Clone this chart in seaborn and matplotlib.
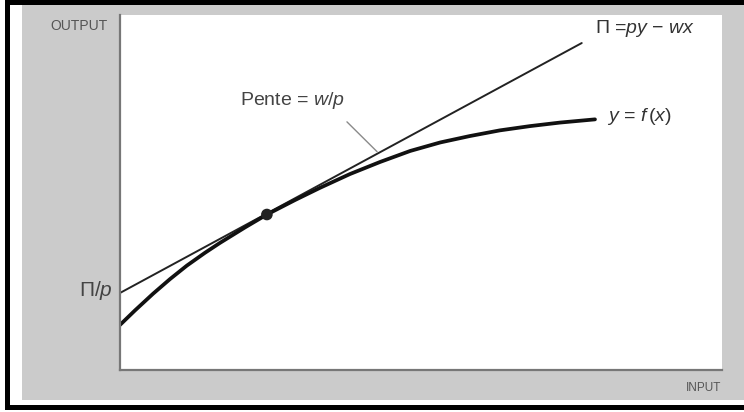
import matplotlib
matplotlib.use("Agg")
import matplotlib.pyplot as plt
from matplotlib.patches import Rectangle
import seaborn as sns
import pandas as pd

# ---- data (arbitrary units, 0-10 axes) ----
input_curve = [0.00, 0.25, 0.55, 0.83, 1.11, 1.41, 1.66, 2.08, 2.44, 2.91,
               3.32, 3.82, 4.32, 4.82, 5.32, 5.81, 6.31, 6.81, 7.31, 7.89]
output_curve = [1.27, 1.68, 2.15, 2.56, 2.94, 3.30, 3.58, 4.02, 4.38, 4.79,
                5.13, 5.52, 5.86, 6.17, 6.41, 6.59, 6.75, 6.87, 6.97, 7.06]
profit_line_x = [0.00, 7.67]
profit_line_y = [2.17, 9.21]
tangent_x = [2.44]
tangent_y = [4.38]
leader_x = [3.77, 4.27]
leader_y = [6.99, 6.15]

sns.set_style("white")
plt.rcParams["font.family"] = ["Liberation Sans", "DejaVu Sans"]
plt.rcParams["mathtext.fontset"] = "custom"
plt.rcParams["mathtext.rm"] = "Liberation Sans"
plt.rcParams["mathtext.it"] = "Liberation Sans:italic"

W, H = 744, 412
fig = plt.figure(figsize=(W / 100, H / 100), dpi=100, facecolor="white")

def fx(px):
    return px / W

def fy(py):
    return 1 - py / H

# background frame: grey panel and black border
fig.add_artist(Rectangle((fx(22), fy(400)), fx(744 - 22), (400 - 5) / H,
                         transform=fig.transFigure, facecolor="#cbcbcb",
                         edgecolor="none", zorder=0))
fig.add_artist(Rectangle((fx(5), fy(410)), fx(5), (410 - 0) / H,
                         transform=fig.transFigure, facecolor="black",
                         edgecolor="none", zorder=0.5))
fig.add_artist(Rectangle((fx(5), fy(5)), fx(744 - 5), 5 / H,
                         transform=fig.transFigure, facecolor="black",
                         edgecolor="none", zorder=0.5))
fig.add_artist(Rectangle((fx(5), fy(410)), fx(744 - 5), 5 / H,
                         transform=fig.transFigure, facecolor="black",
                         edgecolor="none", zorder=0.5))

ax = fig.add_axes([fx(120), fy(370), fx(722 - 120), (370 - 15) / H])
ax.set_facecolor("white")
ax.set_zorder(1)

curve_df = pd.DataFrame({"input": input_curve, "output": output_curve})
line_df = pd.DataFrame({"input": profit_line_x, "output": profit_line_y})
pt_df = pd.DataFrame({"input": tangent_x, "output": tangent_y})

sns.lineplot(data=line_df, x="input", y="output", ax=ax, color="#222222",
             linewidth=1.4, sort=False)
sns.lineplot(data=curve_df, x="input", y="output", ax=ax, color="#111111",
             linewidth=2.7, sort=False, solid_joinstyle="round",
             solid_capstyle="round")
sns.scatterplot(data=pt_df, x="input", y="output", ax=ax, color="#222222",
                s=70, edgecolor="none", zorder=5)
ax.plot(leader_x, leader_y, color="#8a8a8a", linewidth=1.0)

ax.set_xlim(0, 10)
ax.set_ylim(0, 10)
ax.set_xticks([])
ax.set_yticks([])
ax.set_xlabel("")
ax.set_ylabel("")
for s in ["top", "right"]:
    ax.spines[s].set_visible(False)
for s in ["left", "bottom"]:
    ax.spines[s].set_color("#777777")
    ax.spines[s].set_linewidth(1.6)

# labels
ax.text(1.99, 7.58, r"Pente = $w/p$", fontsize=14, color="#444444",
        ha="left", va="center")
ax.text(7.89, 9.61, r"$\Pi$ =$py$ $-$ $wx$", fontsize=14, color="#333333",
        ha="left", va="center")
ax.text(8.09, 7.15, r"$y$ = $f\,$($x$)", fontsize=14, color="#333333",
        ha="left", va="center")

fig.text(fx(113), fy(290), r"$\Pi/p$", fontsize=15, color="#444444",
         ha="right", va="center")
fig.text(fx(108), fy(26), "OUTPUT", fontsize=10, color="#555555",
         ha="right", va="center")
fig.text(fx(721), fy(388), "INPUT", fontsize=8.5, color="#555555",
         ha="right", va="center")

fig.savefig("out.png", dpi=100, facecolor="white")
